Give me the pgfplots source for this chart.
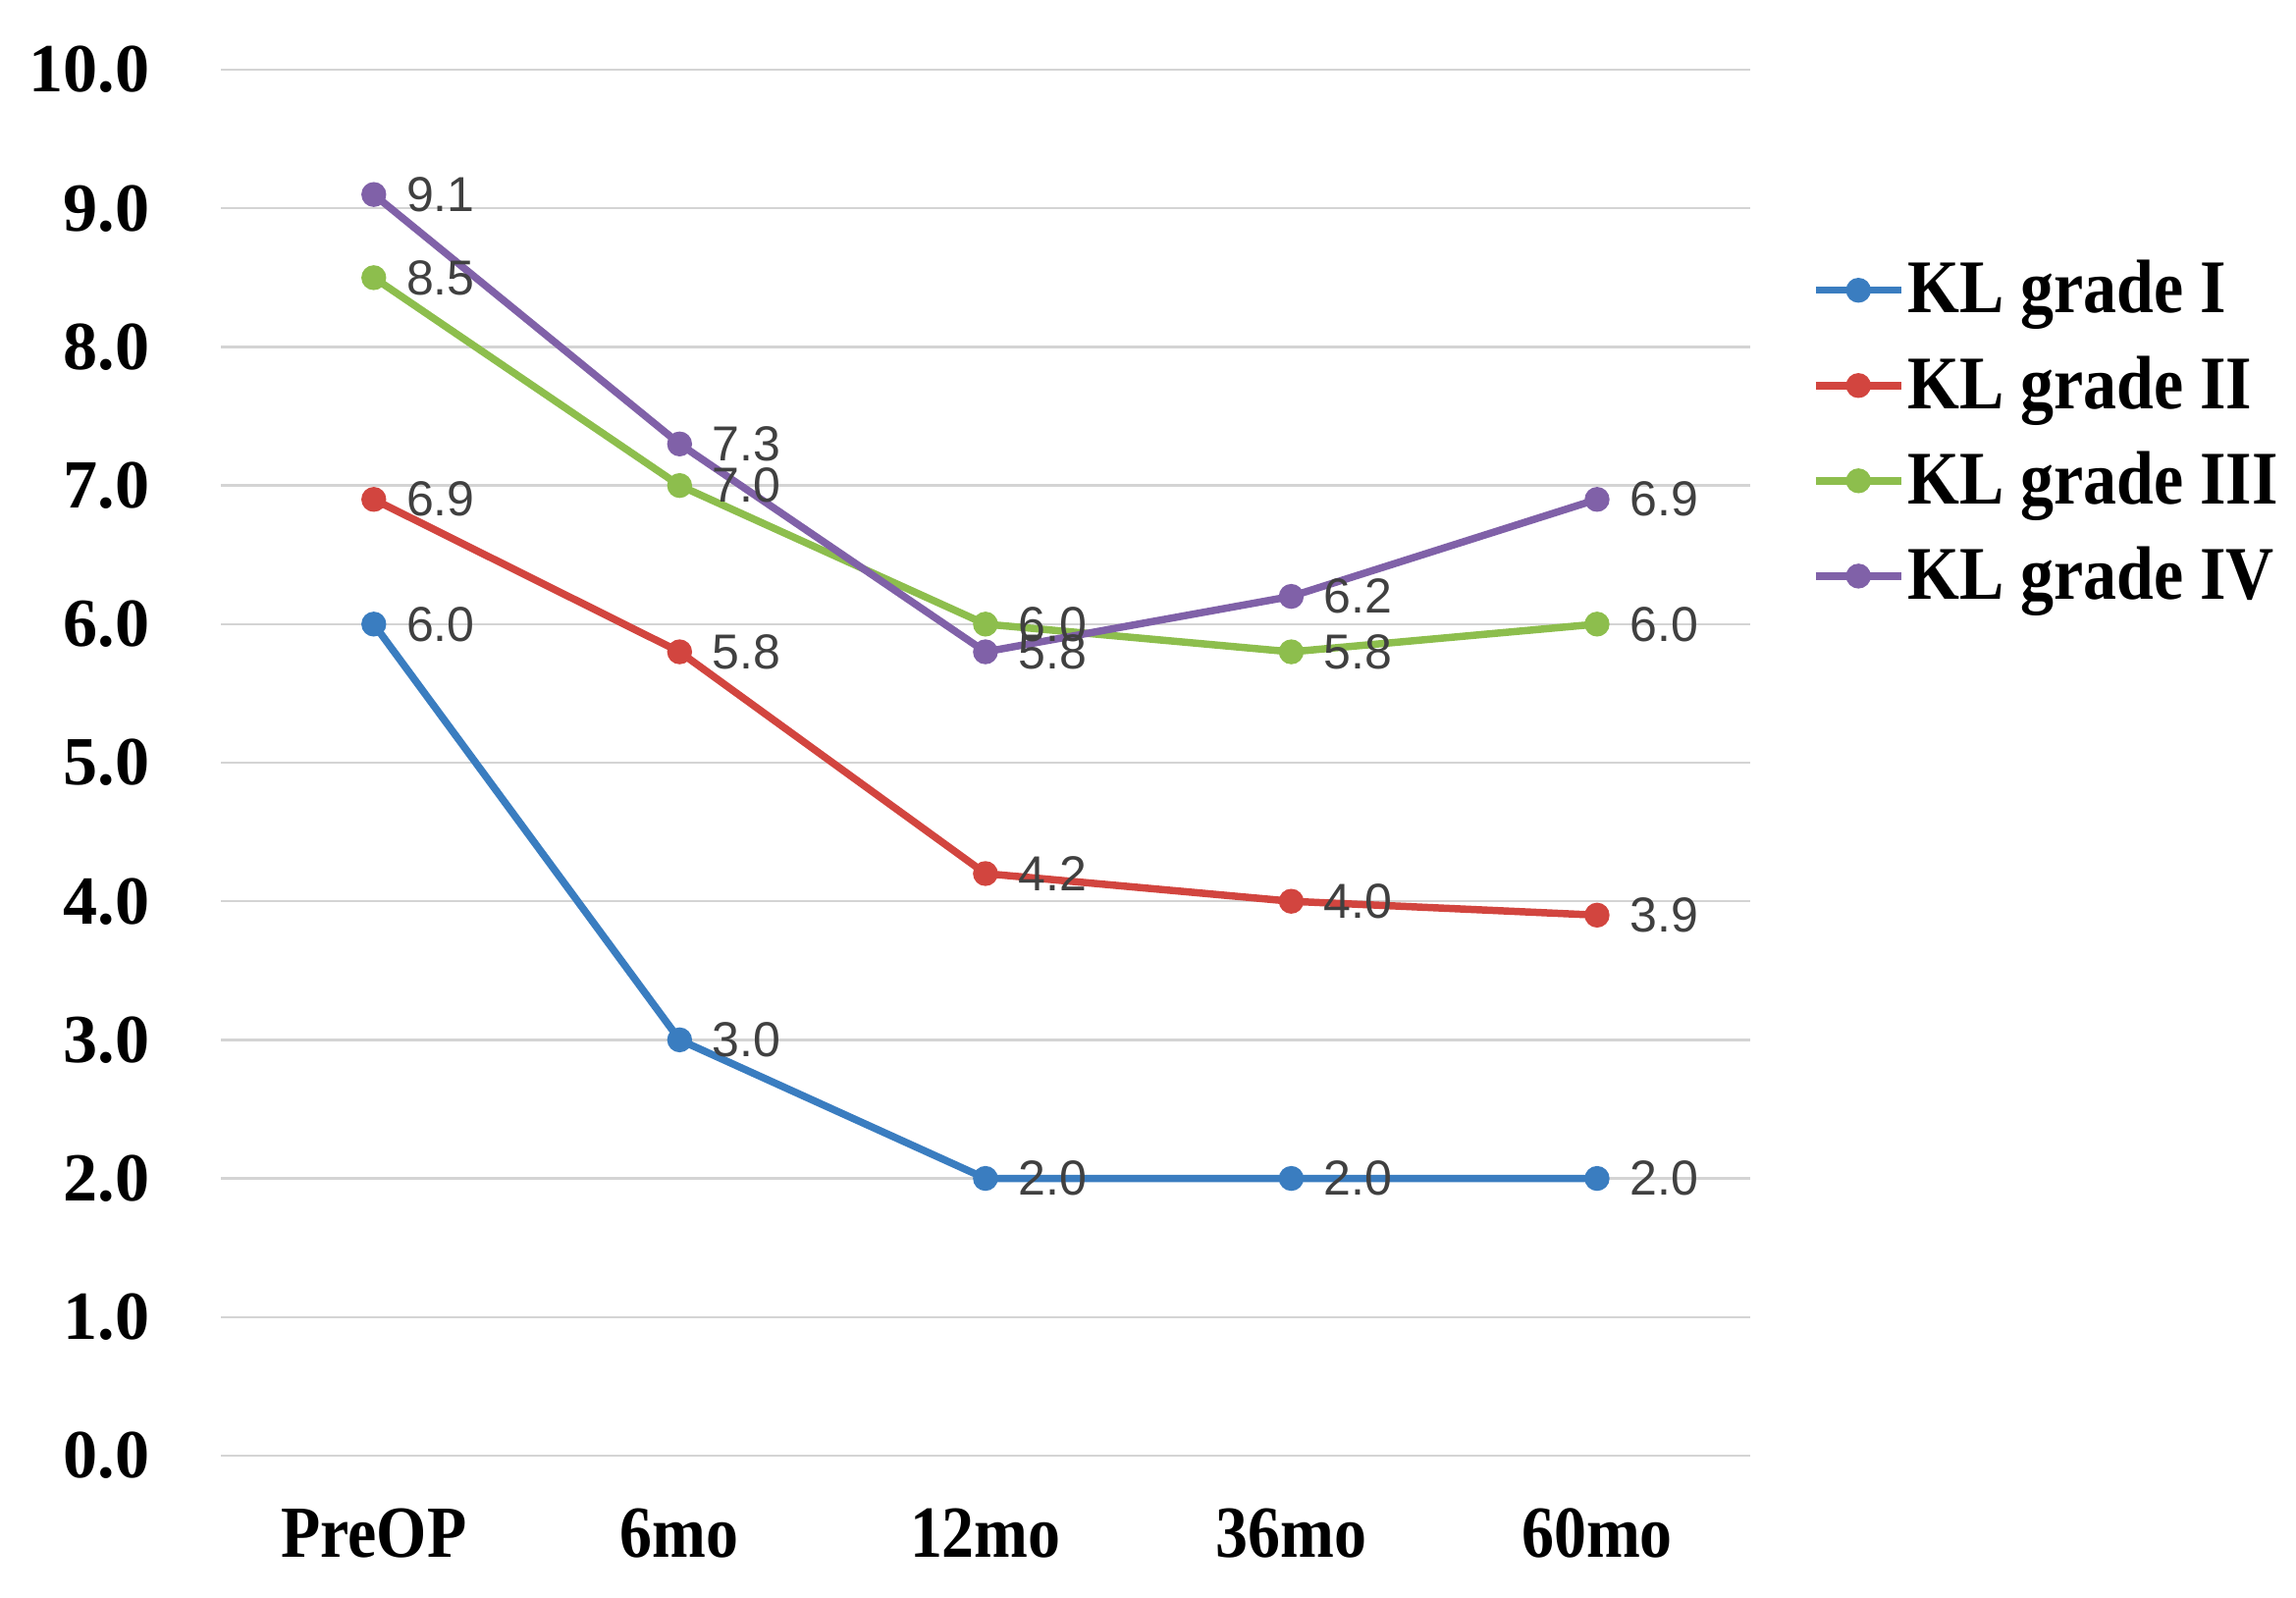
\documentclass[border=0pt]{standalone}
\usepackage{fontspec}
\setmainfont{Liberation Serif}
\newfontfamily\labfont{Liberation Sans}
\newfontfamily\narrowserif[FakeStretch=0.88]{Liberation Serif}
\usepackage{pgfplots}
\pgfplotsset{compat=1.18}

\definecolor{gI}{HTML}{3A7DC0}
\definecolor{gII}{HTML}{D2453F}
\definecolor{gIII}{HTML}{8DBE4D}
\definecolor{gIV}{HTML}{8061A8}
\definecolor{labgray}{HTML}{404040}

\pgfplotsset{
  kl/.style={
    line width=1.6pt, mark=*, mark size=1.9pt,
    mark options={solid},
  },
}

\begin{document}
\begin{tikzpicture}
\begin{axis}[
  scale only axis,
  width=333pt, height=301.8pt,
  xmin=-0.5, xmax=4.5,
  ymin=0, ymax=10,
  xtick={0,1,2,3,4},
  xticklabels={PreOP, 6mo, 12mo, 36mo, 60mo},
  ytick={0,1,...,10},
  /pgf/number format/assume math mode=true,
  yticklabel={\pgfmathprintnumber[fixed,fixed zerofill,precision=1]{\tick}},
  yticklabel style={font=\bfseries\fontsize{15}{18}\selectfont, anchor=east, xshift=-12pt},
  xticklabel style={font=\narrowserif\bfseries\fontsize{16}{19}\selectfont, anchor=north, yshift=-8pt},
  major tick length=0pt,
  axis line style={draw=none},
  ymajorgrids=true,
  major grid style={color=black!17, line width=0.5pt},
  clip=false,
  nodes near coords={\pgfmathprintnumber[fixed,fixed zerofill,precision=1]{\pgfplotspointmeta}},
  nodes near coords style={anchor=west, xshift=3pt, font=\labfont\fontsize{10.7}{12}\selectfont, text=labgray},
  legend style={
    at={(1.040,0.865)}, anchor=north west, draw=none, fill=none,
    font=\narrowserif\bfseries\fontsize{16.5}{19}\selectfont,
    row sep=6.6pt, inner sep=0pt,
    nodes={inner sep=0.6pt},
  },
  legend cell align=left,
  legend image code/.code={
    \draw[mark repeat=2,mark phase=2] plot coordinates {(0pt,0pt) (9.3pt,0pt) (18.6pt,0pt)};
  },
]

% KL grade I
\addplot[kl, color=gI] coordinates {(0,6.0) (1,3.0) (2,2.0) (3,2.0) (4,2.0)};
% KL grade II
\addplot[kl, color=gII] coordinates {(0,6.9) (1,5.8) (2,4.2) (3,4.0) (4,3.9)};
% KL grade III
\addplot[kl, color=gIII] coordinates {(0,8.5) (1,7.0) (2,6.0) (3,5.8) (4,6.0)};
% KL grade IV
\addplot[kl, color=gIV] coordinates {(0,9.1) (1,7.3) (2,5.8) (3,6.2) (4,6.9)};

\legend{KL grade I, KL grade II, KL grade III, KL grade IV}
\end{axis}
\pgfresetboundingbox
\path[use as bounding box] ([shift={(-48.1pt,-31.0pt)}]current axis.south west)
  rectangle ([shift={(451.9pt,317.0pt)}]current axis.south west);
\end{tikzpicture}
\end{document}
